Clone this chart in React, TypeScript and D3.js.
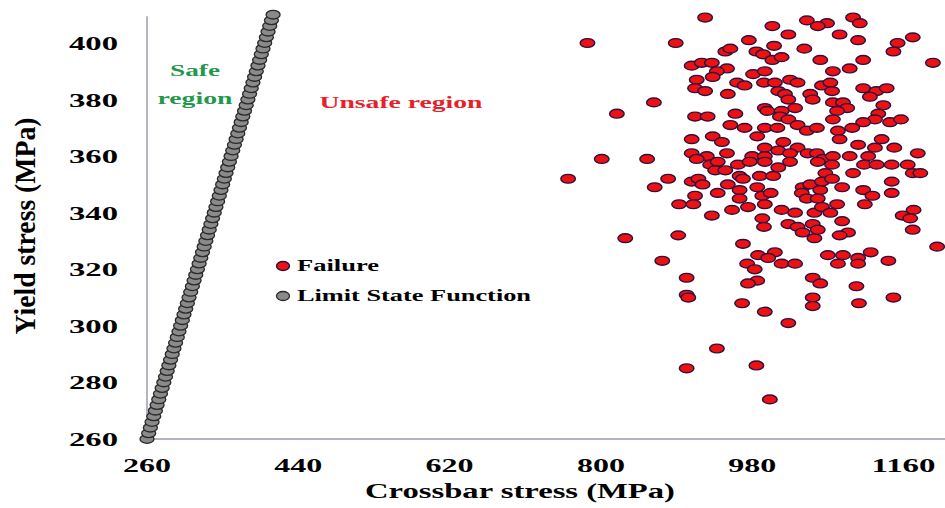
import React from 'react'
import * as d3 from 'd3'

// tick values
const xTicks = [260, 440, 620, 800, 980, 1160]
const yTicks = [260, 280, 300, 320, 340, 360, 380, 400]

// limit state function: yield stress = crossbar stress
const limitStress = [
  260, 262, 264, 266, 268, 270, 272, 274, 276, 278, 280, 282, 284, 286, 288, 290, 292, 294, 296,
  298, 300, 302, 304, 306, 308, 310, 312, 314, 316, 318, 320, 322, 324, 326, 328, 330, 332, 334,
  336, 338, 340, 342, 344, 346, 348, 350, 352, 354, 356, 358, 360, 362, 364, 366, 368, 370, 372,
  374, 376, 378, 380, 382, 384, 386, 388, 390, 392, 394, 396, 398, 400, 402, 404, 406, 408, 410,
]

// failure samples (crossbar stress, yield stress), MPa
const failureCrossbar = [
  784, 889, 863, 819, 924, 1004, 1045, 1023, 976, 1006, 948, 954, 985, 993, 1042, 1004, 1015, 908,
  920, 932, 950, 938, 981, 995, 914, 933, 962, 971, 994, 1007, 1025, 1034, 912, 924, 951, 1011,
  1019, 1049, 1023, 1052, 995, 1031, 998, 1015, 912, 927, 960, 1013, 1023, 954, 971, 995, 1010,
  1034, 1045, 933, 908, 986, 1069, 1058, 1100, 1108, 1084, 1106, 1171, 1153, 1148, 1061, 1112,
  1195, 1076, 1096, 1063, 1073, 1075, 1112, 1128, 1140, 1120, 1076, 1088, 1136, 1093, 1081, 1130,
  1076, 1126, 1112, 1144, 1157, 1057, 1082, 1099, 1084, 1134, 801, 855, 761, 880, 864, 893, 829,
  892, 873, 944, 995, 1017, 1034, 908, 926, 950, 980, 995, 1011, 1025, 1046, 914, 930, 939, 963,
  977, 995, 1011, 1025, 936, 948, 908, 916, 921, 951, 965, 969, 989, 1005, 965, 986, 992, 1002,
  1040, 1049, 939, 912, 965, 1039, 1045, 910, 975, 995, 956, 1015, 1031, 1054, 932, 992, 1023,
  1034, 1052, 994, 1040, 1054, 969, 1007, 987, 999, 974, 1015, 983, 1031, 1106, 1126, 1149, 1057,
  1064, 1076, 1096, 1118, 1177, 1058, 1075, 1113, 1128, 1146, 1165, 1171, 1180, 1067, 1100, 1063,
  1075, 1087, 1061, 1146, 1112, 1146, 1123, 1114, 1058, 1063, 1081, 1073, 1172, 1159, 1168, 1087,
  1058, 1094, 1084, 1171, 1200, 1121, 1070, 1088, 1106, 1082, 1106, 1142, 902, 902, 904, 986, 975,
  1052, 1052, 1052, 968, 995, 1023, 938, 902, 985, 1001, 1061, 1104, 1107, 1148,
]
const failureYield = [
  400, 400, 379, 375, 409, 406, 408, 403, 401, 399, 397, 398, 397, 396, 398, 394, 395, 392, 393,
  393, 391, 390, 389, 390, 387, 388, 386, 385, 386, 386, 387, 386, 384, 383, 382, 383, 382, 382,
  380, 380, 377, 377, 376, 376, 374, 374, 375, 374, 373, 371, 370, 370, 370, 371, 369, 367, 366,
  367, 407, 406, 409, 407, 403, 401, 402, 400, 397, 394, 394, 393, 390, 391, 385, 386, 383, 384,
  383, 384, 381, 379, 379, 378, 377, 376, 375, 373, 373, 372, 372, 373, 370, 369, 370, 366, 366,
  359, 359, 352, 352, 349, 343, 331, 332, 323, 365, 363, 365, 363, 361, 360, 361, 360, 360, 362,
  361, 361, 359, 357, 358, 357, 358, 358, 356, 358, 355, 355, 351, 352, 350, 350, 353, 352, 353,
  353, 348, 349, 346, 347, 349, 350, 347, 346, 345, 347, 345, 343, 342, 343, 341, 341, 340, 340,
  339, 338, 336, 335, 336, 335, 333, 331, 329, 326, 325, 324, 322, 322, 320, 322, 364, 363, 363,
  361, 359, 360, 360, 360, 361, 358, 357, 357, 357, 357, 357, 354, 354, 354, 354, 351, 352, 349,
  348, 351, 348, 347, 346, 343, 345, 342, 343, 340, 341, 339, 338, 337, 334, 333, 332, 334, 328,
  326, 325, 325, 324, 322, 322, 323, 317, 311, 310, 316, 315, 317, 310, 307, 308, 305, 301, 292,
  285, 286, 274, 315, 314, 308, 310,
]

const serif = '"Liberation Serif", "Times New Roman", serif'
const axisColor = '#9a9aae'

export default function App() {
  const width = 945
  const height = 508

  const xScale = d3.scaleLinear().domain([260, 1160]).range([147, 903.5])
  const yScale = d3.scaleLinear().domain([260, 400]).range([439, 43])
  const xEnd = 1210
  const yEnd = 409.5

  const failures = failureCrossbar.map((c, i) => ({c, y: failureYield[i]}))

  return (
    <svg
      width={width}
      height={height}
      style={{position: 'absolute', left: 0, top: 0, background: '#fff'}}>
      {/* axes */}
      <line
        x1={xScale(260)}
        x2={xScale(xEnd)}
        y1={yScale(260)}
        y2={yScale(260)}
        stroke={axisColor}
        strokeWidth={1.5}
      />
      <line
        x1={xScale(260)}
        x2={xScale(260)}
        y1={yScale(260)}
        y2={yScale(yEnd)}
        stroke={axisColor}
        strokeWidth={1.5}
      />

      {/* tick labels */}
      {yTicks.map(t => (
        <text
          key={'y' + t}
          x={118}
          y={yScale(t) + 7}
          textAnchor="end"
          fontFamily={serif}
          fontWeight="bold"
          fontSize={19}
          textLength={49}
          lengthAdjust="spacingAndGlyphs">
          {t}
        </text>
      ))}
      {xTicks.map(t => (
        <text
          key={'x' + t}
          x={xScale(t)}
          y={472}
          textAnchor="middle"
          fontFamily={serif}
          fontWeight="bold"
          fontSize={19}
          textLength={String(t).length * 16}
          lengthAdjust="spacingAndGlyphs">
          {t}
        </text>
      ))}

      {/* axis titles */}
      <text
        x={520}
        y={498}
        textAnchor="middle"
        fontFamily={serif}
        fontWeight="bold"
        fontSize={22}
        textLength={310}
        lengthAdjust="spacingAndGlyphs">
        Crossbar stress (MPa)
      </text>
      <g transform="translate(35,226) scale(1.2,1) rotate(-90)">
        <text
          x={0}
          y={0}
          textAnchor="middle"
          fontFamily={serif}
          fontWeight="bold"
          fontSize={25}
          textLength={217}
          lengthAdjust="spacingAndGlyphs">
          Yield stress (MPa)
        </text>
      </g>

      {/* limit state function */}
      {limitStress.map(s => (
        <ellipse
          key={'l' + s}
          cx={xScale(s)}
          cy={yScale(s)}
          rx={7}
          ry={4.3}
          fill="#8a8a8a"
          stroke="#2a2a2a"
          strokeWidth={1.3}
        />
      ))}

      {/* failure points */}
      {failures.map((d, i) => (
        <ellipse
          key={'f' + i}
          cx={xScale(d.c)}
          cy={yScale(d.y)}
          rx={7.3}
          ry={4.4}
          fill="#ee1111"
          stroke="#2e1040"
          strokeWidth={1.4}
        />
      ))}

      {/* region labels */}
      <text
        x={195}
        y={76}
        textAnchor="middle"
        fontFamily={serif}
        fontWeight="bold"
        fontSize={16}
        fill="#22994a"
        textLength={50}
        lengthAdjust="spacingAndGlyphs">
        Safe
      </text>
      <text
        x={195}
        y={104}
        textAnchor="middle"
        fontFamily={serif}
        fontWeight="bold"
        fontSize={16}
        fill="#22994a"
        textLength={75}
        lengthAdjust="spacingAndGlyphs">
        region
      </text>
      <text
        x={401}
        y={108}
        textAnchor="middle"
        fontFamily={serif}
        fontWeight="bold"
        fontSize={16}
        fill="#e8202a"
        textLength={163}
        lengthAdjust="spacingAndGlyphs">
        Unsafe region
      </text>

      {/* legend */}
      <ellipse cx={283} cy={266} rx={6.5} ry={4.5} fill="#ee1111" stroke="#2e1040" strokeWidth={1.4} />
      <text
        x={297}
        y={271}
        fontFamily={serif}
        fontWeight="bold"
        fontSize={16}
        textLength={82}
        lengthAdjust="spacingAndGlyphs">
        Failure
      </text>
      <ellipse cx={283} cy={296} rx={6.5} ry={4.5} fill="#8a8a8a" stroke="#2a2a2a" strokeWidth={1.3} />
      <text
        x={297}
        y={301}
        fontFamily={serif}
        fontWeight="bold"
        fontSize={16}
        textLength={234}
        lengthAdjust="spacingAndGlyphs">
        Limit State Function
      </text>
    </svg>
  )
}
